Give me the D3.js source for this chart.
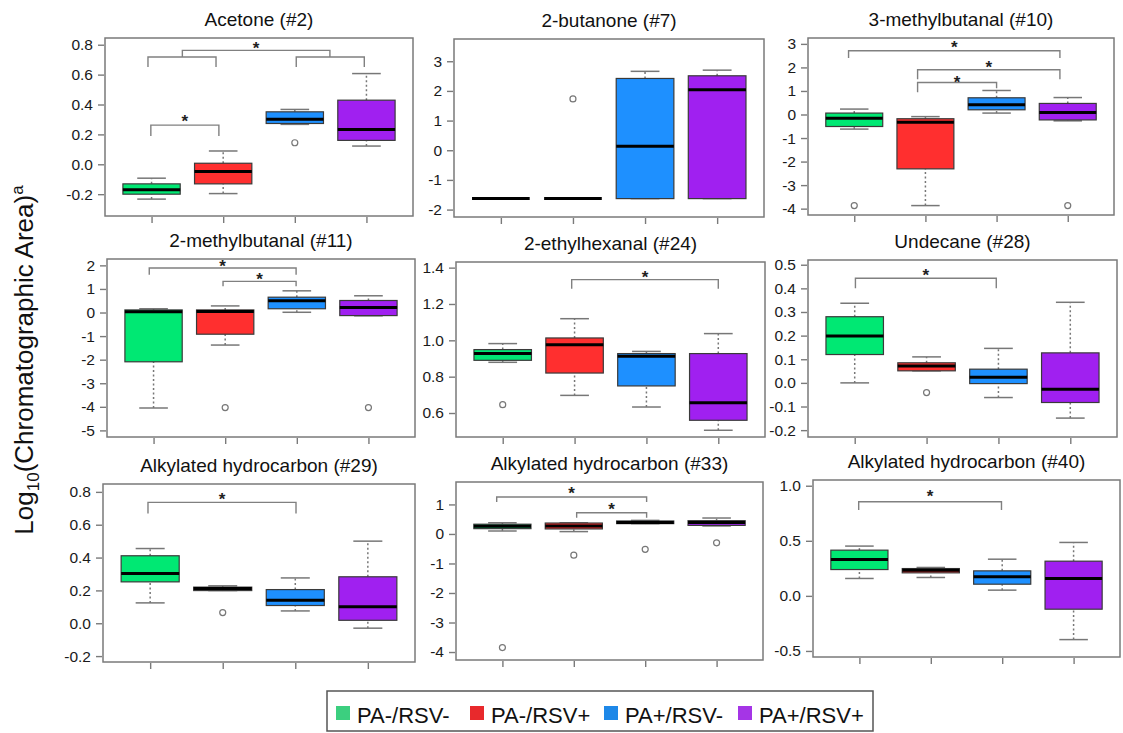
<!DOCTYPE html>
<html>
<head>
<meta charset="utf-8">
<script src="https://cdn.jsdelivr.net/npm/d3@7"></script>
<style>
body { margin: 0; background: #fff; }
svg text { font-family: "Liberation Sans", Arial, sans-serif; }
</style>
</head>
<body>
<div id="chart"></div>
<script>
// groups and colours
var groups = ['PA-/RSV-', 'PA-/RSV+', 'PA+/RSV-', 'PA+/RSV+'];
var boxColors = ['#00e873', '#ff2f2f', '#1e90ff', '#a020f0'];
var legendColors = ['#3ccf7f', '#e8292c', '#1e88e8', '#a535e6'];

var titles = ['Acetone (#2)', '2-butanone (#7)', '3-methylbutanal (#10)',
  '2-methylbutanal (#11)', '2-ethylhexanal (#24)', 'Undecane (#28)',
  'Alkylated hydrocarbon (#29)', 'Alkylated hydrocarbon (#33)', 'Alkylated hydrocarbon (#40)'];

// [whisker low, Q1, median, Q3, whisker high] for each group
var acetone = [[-0.233, -0.200, -0.171, -0.131, -0.093], [-0.196, -0.131, -0.049, 0.007, 0.089],
  [0.267, 0.273, 0.302, 0.351, 0.367], [0.122, 0.160, 0.233, 0.429, 0.607]];
var butanone = [[-1.63, -1.63, -1.63, -1.63, -1.63], [-1.63, -1.63, -1.63, -1.63, -1.63],
  [-1.63, -1.63, 0.135, 2.42, 2.66], [-1.63, -1.63, 2.04, 2.51, 2.70]];
var methylbutanal3 = [[-0.62, -0.51, -0.16, 0.06, 0.23], [-3.87, -2.31, -0.33, -0.18, -0.09],
  [0.06, 0.20, 0.41, 0.71, 1.02], [-0.27, -0.23, 0.09, 0.47, 0.72]];
var methylbutanal2 = [[-4.05, -2.09, 0.03, 0.11, 0.16], [-1.38, -0.92, 0.04, 0.11, 0.28],
  [0.01, 0.16, 0.50, 0.65, 0.92], [-0.14, -0.13, 0.21, 0.51, 0.71]];
var ethylhexanal = [[0.879, 0.890, 0.927, 0.949, 0.982], [0.697, 0.820, 0.976, 1.013, 1.119],
  [0.633, 0.749, 0.912, 0.927, 0.939], [0.505, 0.560, 0.657, 0.927, 1.037]];
var undecane = [[0.000, 0.120, 0.198, 0.280, 0.337], [0.051, 0.051, 0.071, 0.085, 0.110],
  [-0.062, -0.003, 0.024, 0.058, 0.146], [-0.149, -0.083, -0.027, 0.127, 0.341]];
var hydrocarbon29 = [[0.124, 0.252, 0.303, 0.411, 0.455], [0.199, 0.199, 0.211, 0.220, 0.228],
  [0.075, 0.108, 0.140, 0.205, 0.276], [-0.030, 0.018, 0.100, 0.283, 0.500]];
var hydrocarbon33 = [[0.10, 0.18, 0.26, 0.33, 0.38], [0.08, 0.17, 0.27, 0.37, 0.38],
  [0.35, 0.35, 0.39, 0.44, 0.46], [0.27, 0.29, 0.39, 0.45, 0.54]];
var hydrocarbon40 = [[0.158, 0.239, 0.330, 0.415, 0.452], [0.167, 0.209, 0.233, 0.248, 0.258],
  [0.052, 0.106, 0.173, 0.227, 0.333], [-0.397, -0.121, 0.158, 0.315, 0.485]];

// outliers: [group index, value]
var outliers = [
  [[3, 0.144]],
  [[2, 1.73]],
  [[1, -3.87], [4, -3.87]],
  [[2, -4.03], [4, -4.03]],
  [[1, 0.646]],
  [[2, -0.041]],
  [[2, 0.065]],
  [[1, -3.85], [2, -0.72], [3, -0.52], [4, -0.30]],
  []
];

// y axis ranges and ticks
var yDomains = [[-0.346, 0.845], [-2.25, 3.75], [-4.27, 3.25], [-5.28, 2.27], [0.468, 1.431],
  [-0.229, 0.52], [-0.236, 0.848], [-4.27, 1.76], [-0.555, 1.052]];
var yTicks = [[-0.2, 0, 0.2, 0.4, 0.6, 0.8], [-2, -1, 0, 1, 2, 3], [-4, -3, -2, -1, 0, 1, 2, 3],
  [-5, -4, -3, -2, -1, 0, 1, 2], [0.6, 0.8, 1.0, 1.2, 1.4], [-0.2, -0.1, 0, 0.1, 0.2, 0.3, 0.4, 0.5],
  [-0.2, 0, 0.2, 0.4, 0.6, 0.8], [-4, -3, -2, -1, 0, 1], [-0.5, 0, 0.5, 1.0]];
var yFormats = ['.1f', 'd', 'd', 'd', '.1f', '.1f', '.1f', 'd', '.1f'];

// significance brackets: x1, x2 (group units), top, left leg end, right leg end, star
var brackets = [
  [{x1: 0.99, x2: 1.94, top: 0.262, l1: 0.189, l2: 0.189, star: 0.311},
   {x1: 0.95, x2: 1.90, top: 0.718, l1: 0.651, l2: 0.651},
   {x1: 3.02, x2: 3.97, top: 0.718, l1: 0.651, l2: 0.651},
   {x1: 1.43, x2: 3.49, top: 0.762, l1: 0.718, l2: 0.718, star: 0.80}],
  [],
  [{x1: 0.92, x2: 3.89, top: 2.71, l1: 2.40, l2: 2.40, star: 2.99},
   {x1: 1.89, x2: 3.89, top: 1.90, l1: 1.50, l2: 1.50, star: 2.14},
   {x1: 1.89, x2: 3.00, top: 1.36, l1: 0.94, l2: 1.12, star: 1.52}],
  [{x1: 0.94, x2: 2.99, top: 1.89, l1: 1.60, l2: 1.60, star: 2.10},
   {x1: 1.97, x2: 2.99, top: 1.32, l1: 1.11, l2: 1.11, star: 1.53}],
  [{x1: 1.96, x2: 4.00, top: 1.334, l1: 1.284, l2: 1.284, star: 1.367}],
  [{x1: 1.01, x2: 2.97, top: 0.443, l1: 0.400, l2: 0.400, star: 0.471}],
  [{x1: 0.97, x2: 3.01, top: 0.736, l1: 0.669, l2: 0.669, star: 0.776}],
  [{x1: 0.92, x2: 3.02, top: 1.25, l1: 1.08, l2: 1.08, star: 1.48},
   {x1: 2.04, x2: 3.02, top: 0.72, l1: 0.55, l2: 0.55, star: 0.95}],
  [{x1: 0.99, x2: 2.99, top: 0.855, l1: 0.779, l2: 0.779, star: 0.936}]
];

var panelData = [acetone, butanone, methylbutanal3, methylbutanal2, ethylhexanal,
  undecane, hydrocarbon29, hydrocarbon33, hydrocarbon40];

// panel frames in pixels
var frames = [
  {l: 105, r: 413, t: 38, b: 216}, {l: 454, r: 764, t: 39, b: 217}, {l: 808, r: 1114, t: 38, b: 215},
  {l: 107, r: 415, t: 259, b: 437}, {l: 456, r: 765, t: 262, b: 437}, {l: 808, r: 1117, t: 260, b: 437},
  {l: 103, r: 415, t: 484, b: 662}, {l: 456, r: 763, t: 482, b: 660}, {l: 813, r: 1120, t: 480, b: 657}
];

var width = 1123, height = 733;
var locale = d3.formatLocale({decimal: '.', thousands: ',', grouping: [3], currency: ['', ''], minus: '-'});

var svg = d3.select('#chart').append('svg')
  .attr('width', width)
  .attr('height', height);

var frameColor = '#7a7a7a';
var whiskerColor = '#777';

panelData.forEach(function(data, p) {
  var f = frames[p];
  var x = d3.scaleLinear().domain([0.35, 4.65]).range([f.l, f.r]);
  var y = d3.scaleLinear().domain(yDomains[p]).range([f.b, f.t]);
  var bw = 0.8 * (x(2) - x(1));
  var g = svg.append('g');

  // title
  g.append('text')
    .attr('x', (f.l + f.r) / 2)
    .attr('y', f.t - 12)
    .attr('text-anchor', 'middle')
    .attr('font-size', 19)
    .attr('fill', '#111')
    .text(titles[p]);

  // axes
  var yAxis = g.append('g')
    .attr('transform', 'translate(' + (f.l - 1) + ',0)')
    .call(d3.axisLeft(y).tickValues(yTicks[p]).tickSize(6).tickPadding(5)
      .tickFormat(locale.format(yFormats[p])));
  yAxis.select('.domain').remove();
  yAxis.selectAll('line').attr('stroke', frameColor).attr('stroke-width', 1.4);
  yAxis.selectAll('text').attr('font-size', 15.5).attr('fill', '#1a1a1a')
    .attr('font-family', '"Liberation Sans", Arial, sans-serif');

  var xAxis = g.append('g')
    .attr('transform', 'translate(0,' + (f.b + 1) + ')')
    .call(d3.axisBottom(x).tickValues([1, 2, 3, 4]).tickSize(6).tickFormat(''));
  xAxis.select('.domain').remove();
  xAxis.selectAll('line').attr('stroke', frameColor).attr('stroke-width', 1.4);

  // frame
  g.append('rect')
    .attr('x', f.l).attr('y', f.t)
    .attr('width', f.r - f.l).attr('height', f.b - f.t)
    .attr('fill', 'none')
    .attr('stroke', frameColor)
    .attr('stroke-width', 1.5);

  // brackets
  var br = g.selectAll('.bracket').data(brackets[p]).enter().append('g');
  br.append('path')
    .attr('d', function(d) {
      return 'M' + x(d.x1) + ',' + y(d.l1) + 'V' + y(d.top) + 'H' + x(d.x2) + 'V' + y(d.l2);
    })
    .attr('fill', 'none')
    .attr('stroke', '#808080')
    .attr('stroke-width', 1.4);
  br.filter(function(d) { return d.star != null; }).append('text')
    .attr('x', function(d) { return x((d.x1 + d.x2) / 2); })
    .attr('y', function(d) { return y(d.star) + 9; })
    .attr('text-anchor', 'middle')
    .attr('font-size', 17)
    .attr('font-weight', 'bold')
    .attr('fill', '#222')
    .text('*');

  // boxes
  var bx = g.selectAll('.box').data(data).enter().append('g');
  bx.append('line')
    .attr('x1', function(d, i) { return x(i + 1); })
    .attr('x2', function(d, i) { return x(i + 1); })
    .attr('y1', function(d) { return y(d[0]); })
    .attr('y2', function(d) { return y(d[1]); })
    .attr('stroke', whiskerColor).attr('stroke-width', 1.5).attr('stroke-dasharray', '2,2.5');
  bx.append('line')
    .attr('x1', function(d, i) { return x(i + 1); })
    .attr('x2', function(d, i) { return x(i + 1); })
    .attr('y1', function(d) { return y(d[3]); })
    .attr('y2', function(d) { return y(d[4]); })
    .attr('stroke', whiskerColor).attr('stroke-width', 1.5).attr('stroke-dasharray', '2,2.5');
  [0, 4].forEach(function(k) {
    bx.append('line')
      .attr('x1', function(d, i) { return x(i + 1) - bw / 4; })
      .attr('x2', function(d, i) { return x(i + 1) + bw / 4; })
      .attr('y1', function(d) { return y(d[k]); })
      .attr('y2', function(d) { return y(d[k]); })
      .attr('stroke', whiskerColor).attr('stroke-width', 1.5);
  });
  bx.append('rect')
    .attr('x', function(d, i) { return x(i + 1) - bw / 2; })
    .attr('y', function(d) { return y(d[3]); })
    .attr('width', bw)
    .attr('height', function(d) { return y(d[1]) - y(d[3]); })
    .attr('fill', function(d, i) { return boxColors[i]; })
    .attr('stroke', '#3a3a3a')
    .attr('stroke-width', 1.2);
  bx.append('line')
    .attr('x1', function(d, i) { return x(i + 1) - bw / 2; })
    .attr('x2', function(d, i) { return x(i + 1) + bw / 2; })
    .attr('y1', function(d) { return y(d[2]); })
    .attr('y2', function(d) { return y(d[2]); })
    .attr('stroke', '#000')
    .attr('stroke-width', 3);

  // outliers
  g.selectAll('.out').data(outliers[p]).enter().append('circle')
    .attr('cx', function(d) { return x(d[0]); })
    .attr('cy', function(d) { return y(d[1]); })
    .attr('r', 3)
    .attr('fill', '#fff')
    .attr('stroke', '#777')
    .attr('stroke-width', 1.2);
});

// y axis label
var yl = svg.append('text')
  .attr('transform', 'translate(33,360) rotate(-90)')
  .attr('text-anchor', 'middle')
  .attr('font-size', 26)
  .attr('fill', '#111');
yl.append('tspan').text('Log');
yl.append('tspan').attr('font-size', 17).attr('dy', 6).text('10');
yl.append('tspan').attr('dy', -6).text('(Chromatographic Area)');
yl.append('tspan').attr('font-size', 17).attr('dy', -10).text('a');

// legend
var legend = svg.append('g');
legend.append('rect')
  .attr('x', 327).attr('y', 691)
  .attr('width', 546).attr('height', 40)
  .attr('fill', '#fff')
  .attr('stroke', '#555')
  .attr('stroke-width', 1.5);
var items = legend.selectAll('.item').data(groups).enter().append('g')
  .attr('transform', function(d, i) { return 'translate(' + (336 + i * 134) + ',706)'; });
items.append('rect')
  .attr('width', 14).attr('height', 14)
  .attr('fill', function(d, i) { return legendColors[i]; });
items.append('text')
  .attr('x', 21).attr('y', 17)
  .attr('font-size', 22)
  .attr('fill', '#111')
  .text(function(d) { return d; });
</script>
</body>
</html>
